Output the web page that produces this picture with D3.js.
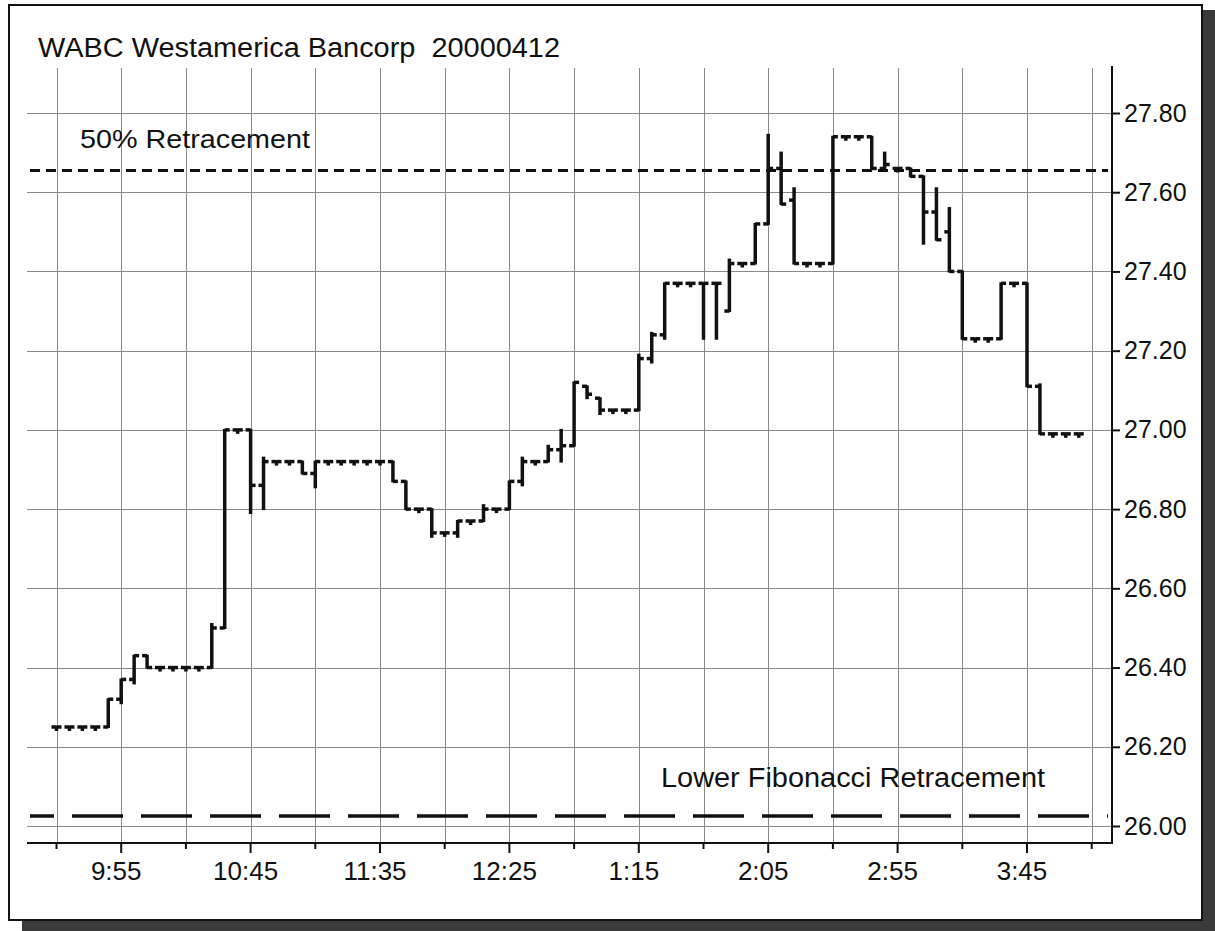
<!doctype html>
<html lang="en">
<head>
    <meta charset="utf-8" />
    <title>WABC Westamerica Bancorp 20000412</title>
    <style>
        body { margin: 0; background: #fff; }
        svg { display: block; }
        text { font-family: "Liberation Sans", Arial, sans-serif; fill: #111; }
    </style>
</head>
<body>
    <svg id="chart"></svg>

    <script src="https://cdn.jsdelivr.net/npm/d3@7/dist/d3.min.js"></script>
    <script>
        // 5 minute bars, 9:30 .. 4:05
        const times = [
            "9:30", "9:35", "9:40", "9:45", "9:50", "9:55", "10:00", "10:05", "10:10", "10:15",
            "10:20", "10:25", "10:30", "10:35", "10:40", "10:45", "10:50", "10:55", "11:00", "11:05",
            "11:10", "11:15", "11:20", "11:25", "11:30", "11:35", "11:40", "11:45", "11:50", "11:55",
            "12:00", "12:05", "12:10", "12:15", "12:20", "12:25", "12:30", "12:35", "12:40", "12:45",
            "12:50", "12:55", "1:00", "1:05", "1:10", "1:15", "1:20", "1:25", "1:30", "1:35",
            "1:40", "1:45", "1:50", "1:55", "2:00", "2:05", "2:10", "2:15", "2:20", "2:25",
            "2:30", "2:35", "2:40", "2:45", "2:50", "2:55", "3:00", "3:05", "3:10", "3:15",
            "3:20", "3:25", "3:30", "3:35", "3:40", "3:45", "3:50", "3:55", "4:00", "4:05"
        ];
        const opens = [
            26.25, 26.25, 26.25, 26.25, 26.25, 26.32, 26.37, 26.43, 26.40, 26.40,
            26.40, 26.40, 26.40, 26.50, 27.00, 27.00, 26.86, 26.92, 26.92, 26.92,
            26.89, 26.92, 26.92, 26.92, 26.92, 26.92, 26.92, 26.87, 26.80, 26.80,
            26.74, 26.74, 26.77, 26.77, 26.80, 26.80, 26.87, 26.92, 26.92, 26.95,
            26.96, 27.11, 27.08, 27.05, 27.05, 27.05, 27.18, 27.24, 27.37, 27.37,
            27.37, 27.37, 27.30, 27.42, 27.42, 27.52, 27.66, 27.58, 27.42, 27.42,
            27.42, 27.74, 27.74, 27.74, 27.66, 27.66, 27.66, 27.64, 27.55, 27.50,
            27.40, 27.23, 27.23, 27.23, 27.37, 27.37, 27.11, 26.99, 26.99, 26.99
        ];
        const highs = [
            26.25, 26.25, 26.25, 26.25, 26.32, 26.37, 26.43, 26.43, 26.40, 26.40,
            26.40, 26.40, 26.51, 27.00, 27.00, 27.00, 26.93, 26.92, 26.92, 26.92,
            26.92, 26.92, 26.92, 26.92, 26.92, 26.92, 26.92, 26.87, 26.80, 26.80,
            26.74, 26.77, 26.77, 26.81, 26.80, 26.87, 26.93, 26.92, 26.96, 27.00,
            27.12, 27.11, 27.08, 27.05, 27.05, 27.19, 27.245, 27.37, 27.37, 27.37,
            27.37, 27.37, 27.43, 27.42, 27.52, 27.745, 27.70, 27.61, 27.42, 27.42,
            27.74, 27.74, 27.74, 27.74, 27.70, 27.66, 27.66, 27.64, 27.61, 27.56,
            27.40, 27.23, 27.23, 27.37, 27.37, 27.37, 27.115, 26.99, 26.99, 26.99
        ];
        const lows = [
            26.25, 26.25, 26.25, 26.25, 26.25, 26.31, 26.36, 26.40, 26.40, 26.40,
            26.40, 26.40, 26.40, 26.50, 27.00, 26.79, 26.80, 26.92, 26.92, 26.89,
            26.855, 26.92, 26.92, 26.92, 26.92, 26.92, 26.87, 26.80, 26.80, 26.73,
            26.74, 26.73, 26.77, 26.77, 26.80, 26.80, 26.86, 26.92, 26.92, 26.92,
            26.96, 27.08, 27.04, 27.05, 27.05, 27.05, 27.17, 27.23, 27.37, 27.37,
            27.23, 27.23, 27.30, 27.42, 27.42, 27.52, 27.57, 27.42, 27.42, 27.42,
            27.42, 27.74, 27.74, 27.66, 27.66, 27.66, 27.64, 27.47, 27.48, 27.40,
            27.23, 27.23, 27.23, 27.23, 27.37, 27.11, 26.99, 26.99, 26.99, 26.99
        ];
        const closes = [
            26.25, 26.25, 26.25, 26.25, 26.32, 26.37, 26.43, 26.40, 26.40, 26.40,
            26.40, 26.40, 26.50, 27.00, 27.00, 26.86, 26.92, 26.92, 26.92, 26.89,
            26.92, 26.92, 26.92, 26.92, 26.92, 26.92, 26.87, 26.80, 26.80, 26.74,
            26.74, 26.77, 26.77, 26.80, 26.80, 26.87, 26.92, 26.92, 26.95, 26.96,
            27.12, 27.09, 27.05, 27.05, 27.05, 27.18, 27.24, 27.37, 27.37, 27.37,
            27.37, 27.37, 27.42, 27.42, 27.52, 27.66, 27.57, 27.42, 27.42, 27.42,
            27.74, 27.74, 27.74, 27.66, 27.67, 27.66, 27.64, 27.55, 27.48, 27.40,
            27.23, 27.23, 27.23, 27.37, 27.37, 27.11, 26.99, 26.99, 26.99, 26.99
        ];

        const gridTimes = ["9:30", "9:55", "10:20", "10:45", "11:10", "11:35", "12:00", "12:25", "12:50",
                           "1:15", "1:40", "2:05", "2:30", "2:55", "3:20", "3:45", "4:10"];
        const labelTimes = ["9:55", "10:45", "11:35", "12:25", "1:15", "2:05", "2:55", "3:45"];
        const priceTicks = [26.00, 26.20, 26.40, 26.60, 26.80, 27.00, 27.20, 27.40, 27.60, 27.80];

        const title = "WABC Westamerica Bancorp  20000412";
        const retracement50 = 27.655, retracementLabel50 = "50% Retracement";
        const fibLower = 26.025, fibLowerLabel = "Lower Fibonacci Retracement";

        // "1:15" -> minutes since midnight (afternoon hours have no am/pm)
        function toMinutes(t) {
            let [h, m] = t.split(":").map(Number);
            if (h < 9) h += 12;
            return h * 60 + m;
        }

        const bars = times.map((t, i) => ({
            t: toMinutes(t), o: opens[i], h: highs[i], l: lows[i], c: closes[i]
        }));

        renderChart();

        function renderChart() {
            const width = 1215, height = 931;
            const left = 27, right = 1112, top = 66, bottom = 843;

            const svg = d3.select("#chart")
                .attr("width", width)
                .attr("height", height)
                .attr("viewBox", [0, 0, width, height]);

            // frame with drop shadow
            svg.append("rect")
                .attr("x", 22).attr("y", 10)
                .attr("width", 1193).attr("height", 921)
                .attr("fill", "#3a3a3a");
            svg.append("rect")
                .attr("x", 9).attr("y", 5)
                .attr("width", 1193).attr("height", 915)
                .attr("fill", "#fff")
                .attr("stroke", "#111")
                .attr("stroke-width", 2);

            const x = d3.scaleLinear()
                .domain([toMinutes("9:30"), toMinutes("3:45")])
                .range([56.5, 1027]);
            const y = d3.scaleLinear()
                .domain([26, 27.8])
                .range([826, 113]);

            // grid
            const grid = svg.append("g")
                .attr("stroke", "#8a8a8a")
                .attr("stroke-width", 1.2)
                .attr("shape-rendering", "crispEdges");
            grid.selectAll("line.h")
                .data(priceTicks)
                .join("line")
                .attr("class", "h")
                .attr("x1", left).attr("x2", right)
                .attr("y1", d => Math.round(y(d)) + 0.5).attr("y2", d => Math.round(y(d)) + 0.5);
            grid.selectAll("line.v")
                .data(gridTimes)
                .join("line")
                .attr("class", "v")
                .attr("x1", d => Math.round(x(toMinutes(d))) + 0.5).attr("x2", d => Math.round(x(toMinutes(d))) + 0.5)
                .attr("y1", top + 2).attr("y2", bottom);

            // retracement lines
            svg.append("line")
                .attr("x1", left + 3).attr("x2", right - 4)
                .attr("y1", y(retracement50)).attr("y2", y(retracement50))
                .attr("stroke", "#111")
                .attr("stroke-width", 3)
                .attr("stroke-dasharray", "10,6");
            svg.append("line")
                .attr("x1", left + 3).attr("x2", right - 4)
                .attr("y1", y(fibLower)).attr("y2", y(fibLower))
                .attr("stroke", "#111")
                .attr("stroke-width", 3.5)
                .attr("stroke-dasharray", "51,18")
                .attr("stroke-dashoffset", 27);

            svg.append("text")
                .attr("x", 80).attr("y", 148)
                .attr("font-size", 25)
                .attr("textLength", 230)
                .attr("lengthAdjust", "spacingAndGlyphs")
                .text(retracementLabel50);
            svg.append("text")
                .attr("x", 661).attr("y", 787)
                .attr("font-size", 27)
                .attr("textLength", 384)
                .attr("lengthAdjust", "spacingAndGlyphs")
                .text(fibLowerLabel);

            // title
            svg.append("text")
                .attr("x", 38).attr("y", 57)
                .attr("font-size", 27)
                .attr("textLength", 522)
                .attr("lengthAdjust", "spacingAndGlyphs")
                .style("white-space", "pre")
                .text(title);

            // axes
            const xAxis = svg.append("g").attr("transform", `translate(0,${bottom})`);
            xAxis.append("line")
                .attr("x1", left).attr("x2", right)
                .attr("stroke", "#111").attr("stroke-width", 2);
            xAxis.selectAll("line.tick")
                .data(gridTimes)
                .join("line")
                .attr("class", "tick")
                .attr("x1", d => x(toMinutes(d))).attr("x2", d => x(toMinutes(d)))
                .attr("y1", 0)
                .attr("y2", d => labelTimes.includes(d) ? 10 : 6)
                .attr("stroke", "#111")
                .attr("stroke-width", 2);
            xAxis.selectAll("text")
                .data(labelTimes)
                .join("text")
                .attr("x", d => x(toMinutes(d)) - 5)
                .attr("y", 37)
                .attr("text-anchor", "middle")
                .attr("font-size", 26)
                .text(d => d);

            const yAxis = svg.append("g")
                .attr("transform", `translate(${right},0)`)
                .call(d3.axisRight(y).tickValues(priceTicks).tickFormat(d3.format(".2f")).tickSize(8).tickPadding(4));
            yAxis.select(".domain").remove();
            yAxis.selectAll(".tick line").attr("stroke", "#111").attr("stroke-width", 2);
            yAxis.selectAll(".tick text")
                .attr("font-family", null)
                .attr("font-size", 25)
                .attr("fill", "#111");
            yAxis.append("line")
                .attr("y1", top).attr("y2", bottom + 1)
                .attr("stroke", "#111").attr("stroke-width", 2);
            svg.selectAll("g.tick text").style("font-family", '"Liberation Sans", Arial, sans-serif');

            // OHLC bars
            const bar = svg.append("g")
                .attr("stroke", "#111")
                .attr("stroke-width", 3.5)
                .selectAll("g")
                .data(bars)
                .join("g")
                .attr("transform", d => `translate(${x(d.t)},0)`);
            bar.append("line")
                .attr("y1", d => y(d.h) - 1)
                .attr("y2", d => Math.max(y(d.l) + 1, y(d.h) + 4));
            bar.append("line")
                .attr("x1", -5).attr("x2", 0)
                .attr("y1", d => y(d.o)).attr("y2", d => y(d.o));
            bar.append("line")
                .attr("x1", 0).attr("x2", 5)
                .attr("y1", d => y(d.c)).attr("y2", d => y(d.c));
        }
    </script>
</body>
</html>
